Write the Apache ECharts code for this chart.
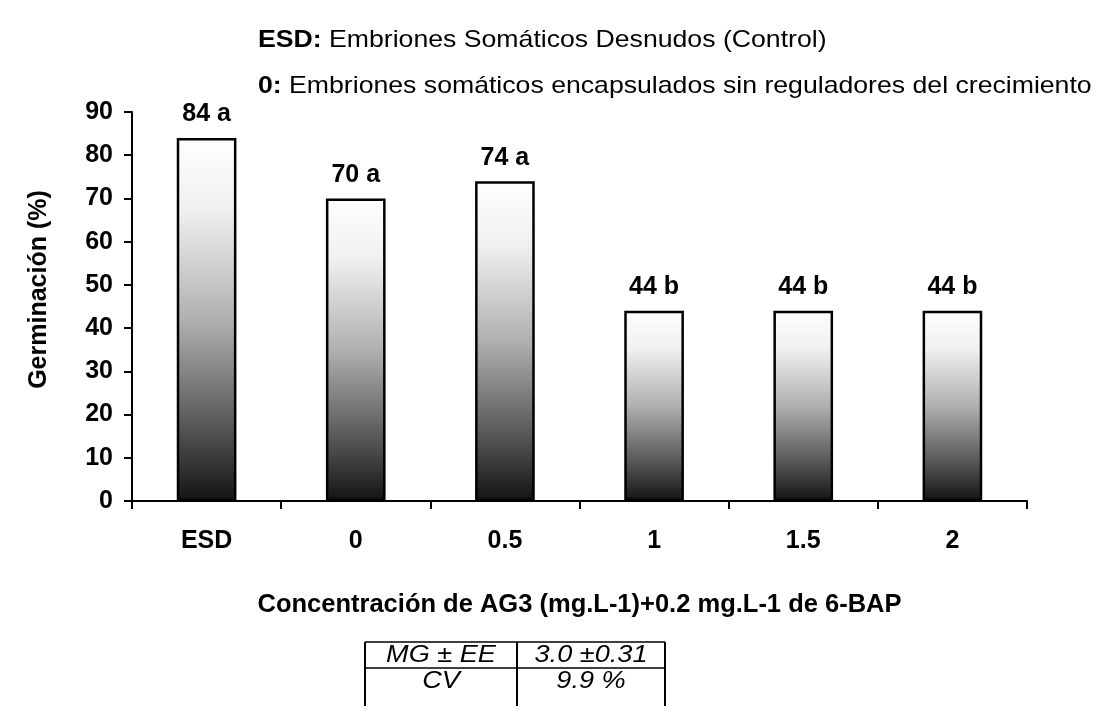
<!DOCTYPE html>
<html><head><meta charset="utf-8">
<script src="https://cdn.jsdelivr.net/npm/echarts@6/dist/echarts.min.js"></script>
<style>html,body{margin:0;padding:0;background:#fff}#c{width:1098px;height:706px}</style>
</head><body><div id="c"></div>
<script>
const categories = ['ESD', '0', '0.5', '1', '1.5', '2'];
const values = [84, 70, 74, 44, 44, 44];
const letters = ['a', 'a', 'a', 'b', 'b', 'b'];
const yTicks = [0, 10, 20, 30, 40, 50, 60, 70, 80, 90];
const tableRows = [['MG ± EE', '3.0 ±0.31'], ['CV', '9.9 %']];

const FONT = 'Liberation Sans, Arial, sans-serif';
const FS = 25;
const chart = echarts.init(document.getElementById('c'), null, {renderer: 'canvas'});
const grad = new echarts.graphic.LinearGradient(0, 0, 0, 1, [
  {offset: 0, color: '#ffffff'},
  {offset: 0.2, color: '#f0f0f0'},
  {offset: 0.5, color: '#b0b0b0'},
  {offset: 0.8, color: '#555555'},
  {offset: 1, color: '#131313'}
]);

const tblX = [365, 517, 665];
const tblTop = 642, rowH = 26;
const topRich = {b: {fontWeight: 'bold', fontSize: 24, fontFamily: FONT, fill: '#000'}, n: {fontSize: 24, fontFamily: FONT, fill: '#000'}};
const graphics = [
  {type: 'text', left: 258, top: 28, scaleX: 1.11, style: {rich: topRich, text: '{b|ESD:}{n| Embriones Somáticos Desnudos (Control)}'}},
  {type: 'text', left: 258, top: 74, scaleX: 1.11, style: {rich: topRich, text: '{b|0:}{n| Embriones somáticos encapsulados sin reguladores del crecimiento}'}},
  {type: 'line', shape: {x1: tblX[0], y1: tblTop, x2: tblX[2], y2: tblTop}, style: {stroke: '#000', lineWidth: 1.5}},
  {type: 'line', shape: {x1: tblX[0], y1: tblTop + rowH, x2: tblX[2], y2: tblTop + rowH}, style: {stroke: '#000', lineWidth: 1.5}},
  {type: 'line', shape: {x1: tblX[0], y1: tblTop, x2: tblX[0], y2: 706}, style: {stroke: '#000', lineWidth: 2}},
  {type: 'line', shape: {x1: tblX[1], y1: tblTop, x2: tblX[1], y2: 706}, style: {stroke: '#000', lineWidth: 2}},
  {type: 'line', shape: {x1: tblX[2], y1: tblTop, x2: tblX[2], y2: 706}, style: {stroke: '#000', lineWidth: 2}}
];
tableRows.forEach((r, i) => {
  [0, 1].forEach(j => {
    graphics.push({type: 'text', x: (tblX[j] + tblX[j + 1]) / 2, y: tblTop + rowH * i + rowH / 2 + 1, scaleX: 1.18,
      style: {text: r[j], fontSize: 23, fontStyle: 'italic', fontFamily: FONT, fill: '#000', align: 'center', verticalAlign: 'middle'}});
  });
});

chart.setOption({
  animation: false,
  backgroundColor: '#fff',
  grid: {left: 132, right: 71, top: 112, bottom: 205, containLabel: false},
  xAxis: {
    type: 'category', data: categories,
    name: 'Concentración de AG3 (mg.L-1)+0.2 mg.L-1 de 6-BAP',
    nameLocation: 'middle', nameGap: 91,
    nameTextStyle: {fontWeight: 'bold', fontSize: 25.5, fontFamily: FONT, color: '#000'},
    axisLine: {lineStyle: {color: '#000', width: 2}},
    axisTick: {show: true, alignWithLabel: false, length: 8, lineStyle: {color: '#000', width: 2}},
    axisLabel: {fontWeight: 'bold', fontSize: FS, fontFamily: FONT, color: '#000', margin: 28}
  },
  yAxis: {
    type: 'value', min: 0, max: 90, interval: 10,
    name: 'Germinación (%)', nameLocation: 'middle', nameGap: 80, nameRotate: 90,
    nameTextStyle: {fontWeight: 'bold', fontSize: FS, fontFamily: FONT, color: '#000', padding: [0, 0, 0, 34]},
    axisLine: {show: true, lineStyle: {color: '#000', width: 2}},
    axisTick: {show: true, length: 8, lineStyle: {color: '#000', width: 2}},
    splitLine: {show: false},
    axisLabel: {fontWeight: 'bold', fontSize: FS, fontFamily: FONT, color: '#000', margin: 19,
      formatter: v => yTicks.includes(v) ? String(v) : ''}
  },
  series: [{
    type: 'bar', barWidth: '40%',
    data: values.map((v, i) => ({value: v, label: {formatter: v + ' ' + letters[i]}})),
    itemStyle: {color: grad, borderColor: '#000', borderWidth: 2.5},
    label: {show: true, position: 'top', distance: 11, fontWeight: 'bold', fontSize: FS, fontFamily: FONT, color: '#000'}
  }],
  graphic: graphics
});
</script></body></html>
